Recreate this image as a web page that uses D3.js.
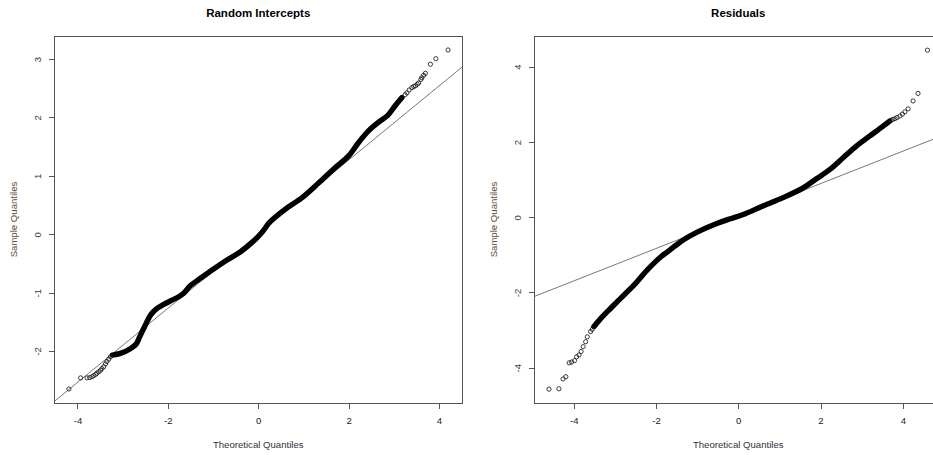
<!DOCTYPE html>
<html>
<head>
<meta charset="utf-8">
<script src="https://cdn.jsdelivr.net/npm/d3@7"></script>
<style>
  html, body { margin: 0; padding: 0; background: #fff; overflow: hidden; }
  svg { display: block; }
</style>
</head>
<body>
<svg id="chart" width="933" height="455"></svg>
<script>
// ---- shared axis values ----
const xTicks = [-4, -2, 0, 2, 4];
const xLabel = "Theoretical Quantiles";
const yLabel = "Sample Quantiles";

// ---- Random intercepts: normal Q-Q ----
const interceptTitle = "Random Intercepts";
const interceptXDomain = [-4.52, 4.52];
const interceptYDomain = [-2.89, 3.394];
const interceptYTicks = [-2, -1, 0, 1, 2, 3];
// dense central run of points (theoretical, sample)
const interceptBandTheo = [-3.23, -3.05, -2.83, -2.70, -2.62, -2.50, -2.38, -2.24, -2.09, -1.91, -1.76, -1.65, -1.50, -1.28, -0.98, -0.69, -0.39, -0.12, 0.08, 0.26, 0.60, 0.97, 1.34, 1.70, 2.00, 2.22, 2.44, 2.70, 2.86, 3.03, 3.18];
const interceptBandSample = [-2.07, -2.04, -1.96, -1.88, -1.75, -1.56, -1.38, -1.27, -1.20, -1.13, -1.07, -1.01, -0.88, -0.755, -0.59, -0.44, -0.30, -0.13, 0.03, 0.21, 0.43, 0.625, 0.88, 1.14, 1.34, 1.57, 1.77, 1.94, 2.03, 2.20, 2.34];
// sparse tail points
const interceptTailTheo = [-4.19, -3.93, -3.79, -3.73, -3.68, -3.64, -3.60, -3.57, -3.53, -3.49, -3.46, -3.42, -3.38, -3.35, -3.31, -3.27,
  3.25, 3.29, 3.34, 3.40, 3.44, 3.48, 3.52, 3.55, 3.60, 3.62, 3.66, 3.70, 3.81, 3.93, 4.20];
const interceptTailSample = [-2.65, -2.46, -2.46, -2.455, -2.44, -2.42, -2.40, -2.38, -2.355, -2.33, -2.30, -2.27, -2.22, -2.18, -2.14, -2.10,
  2.39, 2.42, 2.47, 2.51, 2.53, 2.54, 2.57, 2.59, 2.65, 2.68, 2.72, 2.755, 2.91, 3.005, 3.155];
const interceptRefLine = { intercept: 0.0, slope: 0.6345 };

// ---- Residuals: normal Q-Q ----
const residualTitle = "Residuals";
const residualXDomain = [-4.965, 4.965];
const residualYDomain = [-4.938, 4.816];
const residualYTicks = [-4, -2, 0, 2, 4];
const residualBandTheo = [-3.51, -3.34, -3.10, -2.94, -2.86, -2.53, -2.21, -1.88, -1.72, -1.56, -1.30, -0.91, -0.55, -0.19, 0.12, 0.60, 1.09, 1.58, 1.90, 2.23, 2.55, 2.87, 3.20, 3.52, 3.68];
const residualBandSample = [-2.91, -2.69, -2.42, -2.245, -2.155, -1.80, -1.40, -1.05, -0.92, -0.784, -0.58, -0.35, -0.18, -0.04, 0.07, 0.30, 0.52, 0.78, 1.02, 1.27, 1.58, 1.89, 2.16, 2.42, 2.556];
const residualTailTheo = [-4.60, -4.36, -4.26, -4.19, -4.11, -4.05, -3.98, -3.93, -3.87, -3.82, -3.77, -3.71, -3.67, -3.59, -3.55,
  3.72, 3.76, 3.81, 3.86, 3.93, 3.99, 4.05, 4.13, 4.25, 4.37, 4.60];
const residualTailSample = [-4.57, -4.56, -4.30, -4.24, -3.87, -3.85, -3.81, -3.71, -3.66, -3.57, -3.44, -3.31, -3.18, -3.04, -2.98,
  2.58, 2.60, 2.62, 2.65, 2.69, 2.74, 2.80, 2.88, 3.09, 3.29, 4.44];
const residualRefLine = { intercept: 0.03, slope: 0.431 };

// ---- layout ----
const panelWidth = 480;
const plot = { left: 54, right: 462.5, top: 36, bottom: 403 };
const fontFamily = "'Liberation Sans', Arial, Helvetica, sans-serif";

const svg = d3.select("#chart");

function drawPanel(cfg, index) {
  const ox = index * panelWidth;
  const g = svg.append("g").attr("transform", `translate(${ox},0)`);

  const x = d3.scaleLinear().domain(cfg.xDomain).range([plot.left, plot.right]);
  const y = d3.scaleLinear().domain(cfg.yDomain).range([plot.bottom, plot.top]);

  const clipId = "clip-" + index;
  g.append("clipPath").attr("id", clipId)
    .append("rect")
    .attr("x", plot.left).attr("y", plot.top)
    .attr("width", plot.right - plot.left).attr("height", plot.bottom - plot.top);

  const data = g.append("g").attr("clip-path", `url(#${clipId})`);

  // reference line through the quartiles
  const ends = cfg.xDomain.map(v => [v, cfg.line.intercept + cfg.line.slope * v]);
  data.append("path")
    .attr("d", d3.line().x(d => x(d[0])).y(d => y(d[1]))(ends))
    .attr("fill", "none")
    .attr("stroke", "#555")
    .attr("stroke-width", 0.8);

  // dense central run of overlapping points
  const band = cfg.bandTheo.map((t, i) => [t, cfg.bandSample[i]]);
  data.append("path")
    .attr("d", d3.line().curve(d3.curveCatmullRom.alpha(0.5)).x(d => x(d[0])).y(d => y(d[1]))(band))
    .attr("fill", "none")
    .attr("stroke", "#000")
    .attr("stroke-width", 5.4)
    .attr("stroke-linecap", "round")
    .attr("stroke-linejoin", "round");

  // individual tail points
  const tail = cfg.tailTheo.map((t, i) => [t, cfg.tailSample[i]]);
  data.selectAll("circle.pt").data(tail).join("circle")
    .attr("class", "pt")
    .attr("cx", d => x(d[0]))
    .attr("cy", d => y(d[1]))
    .attr("r", 2.1)
    .attr("fill", "none")
    .attr("stroke", "#1a1a1a")
    .attr("stroke-width", 0.85);

  // plot frame
  g.append("rect")
    .attr("x", plot.left).attr("y", plot.top)
    .attr("width", plot.right - plot.left).attr("height", plot.bottom - plot.top)
    .attr("fill", "none").attr("stroke", "#555").attr("stroke-width", 1)
    .attr("shape-rendering", "crispEdges");

  // x axis
  const xAxis = d3.axisBottom(x).tickValues(xTicks).tickSize(5.5).tickSizeOuter(0).tickPadding(9)
    .tickFormat(d => String(d));
  const gx = g.append("g").attr("transform", `translate(0,${plot.bottom})`).call(xAxis);
  gx.select(".domain").remove();
  gx.selectAll(".tick line").attr("stroke", "#555").attr("shape-rendering", "crispEdges");
  gx.selectAll(".tick text")
    .attr("font-family", fontFamily).attr("font-size", 9.6).attr("fill", "#222")
    .attr("dy", null).attr("y", 21);

  // y axis
  const yAxis = d3.axisLeft(y).tickValues(cfg.yTicks).tickSize(5.5).tickSizeOuter(0)
    .tickFormat(d => String(d));
  const gy = g.append("g").attr("transform", `translate(${plot.left},0)`).call(yAxis);
  gy.select(".domain").remove();
  gy.selectAll(".tick line").attr("stroke", "#555").attr("shape-rendering", "crispEdges");
  gy.selectAll(".tick text")
    .attr("font-family", fontFamily).attr("font-size", 9.6).attr("fill", "#2d3550")
    .attr("x", null).attr("dy", null)
    .attr("text-anchor", "middle")
    .attr("transform", "translate(-13.5,0) rotate(-90)");

  // title
  g.append("text")
    .attr("x", (plot.left + plot.right) / 2).attr("y", 17.3)
    .attr("text-anchor", "middle")
    .attr("font-family", fontFamily).attr("font-size", 11.5).attr("font-weight", "bold")
    .attr("fill", "#000")
    .text(cfg.title);

  // axis titles
  g.append("text")
    .attr("x", (plot.left + plot.right) / 2).attr("y", 447.7)
    .attr("text-anchor", "middle")
    .attr("font-family", fontFamily).attr("font-size", 9.6).attr("fill", "#333")
    .text(xLabel);

  g.append("text")
    .attr("transform", `translate(17.3,${(plot.top + plot.bottom) / 2}) rotate(-90)`)
    .attr("text-anchor", "middle")
    .attr("font-family", fontFamily).attr("font-size", 9.6).attr("fill", "#5b4b3b")
    .text(yLabel);
}

drawPanel({
  title: interceptTitle,
  xDomain: interceptXDomain, yDomain: interceptYDomain, yTicks: interceptYTicks,
  bandTheo: interceptBandTheo, bandSample: interceptBandSample,
  tailTheo: interceptTailTheo, tailSample: interceptTailSample,
  line: interceptRefLine
}, 0);

drawPanel({
  title: residualTitle,
  xDomain: residualXDomain, yDomain: residualYDomain, yTicks: residualYTicks,
  bandTheo: residualBandTheo, bandSample: residualBandSample,
  tailTheo: residualTailTheo, tailSample: residualTailSample,
  line: residualRefLine
}, 1);
</script>
</body>
</html>
